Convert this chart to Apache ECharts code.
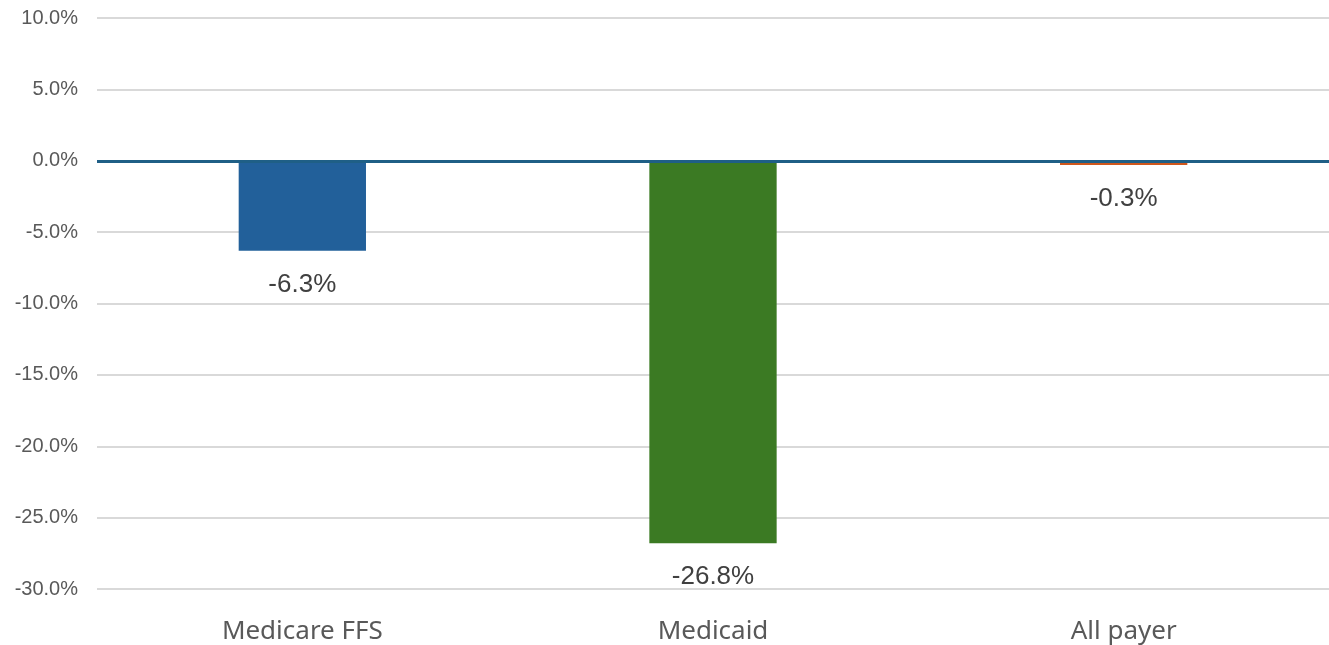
<!DOCTYPE html>
<html>
<head>
    <meta charset="utf-8">
    <script src="https://cdn.jsdelivr.net/npm/echarts@6/dist/echarts.min.js"></script>
</head>
<body style="margin:0;background:#fff;">
<div id="main" style="width:1329px;height:645px;"></div>
<script type="text/javascript">
    var categories = ['Medicare FFS', 'Medicaid', 'All payer'];
    var values = [-6.3, -26.8, -0.3];
    var barColors = ['#22609a', '#3b7a23', '#d0571c'];
    var yTicks = { min: -30, max: 10, step: 5 };

    var chart = echarts.init(document.getElementById('main'));

    var option = {
        animation: false,
        grid: { left: 97, right: 0, top: 18, bottom: 56 },
        xAxis: {
            type: 'category',
            data: categories,
            axisLine: { show: false, onZero: false },
            axisTick: { show: false },
            axisLabel: {
                color: '#595959',
                fontFamily: 'Noto Sans',
                fontSize: 26,
                margin: 30
            }
        },
        yAxis: {
            type: 'value',
            min: yTicks.min,
            max: yTicks.max,
            interval: yTicks.step,
            axisLine: { show: false },
            axisTick: { show: false },
            splitLine: { lineStyle: { color: '#d9d9d9', width: 2 } },
            axisLabel: {
                color: '#595959',
                fontFamily: 'Liberation Sans',
                fontSize: 20,
                margin: 19,
                formatter: function (v) { return v.toFixed(1) + '%'; }
            }
        },
        series: [{
            type: 'bar',
            barWidth: '31%',
            data: values.map(function (v, i) {
                return { value: v, itemStyle: { color: barColors[i] } };
            }),
            label: {
                show: true,
                position: 'bottom',
                distance: 21,
                color: '#404040',
                fontFamily: 'Liberation Sans',
                fontSize: 26,
                formatter: function (p) { return p.value.toFixed(1) + '%'; }
            },
            // zero line drawn over the bars
            markLine: {
                silent: true,
                symbol: 'none',
                label: { show: false },
                lineStyle: { color: '#1f5f86', width: 3, type: 'solid' },
                data: [{ yAxis: 0 }]
            }
        }]
    };

    chart.setOption(option);
</script>
</body>
</html>
